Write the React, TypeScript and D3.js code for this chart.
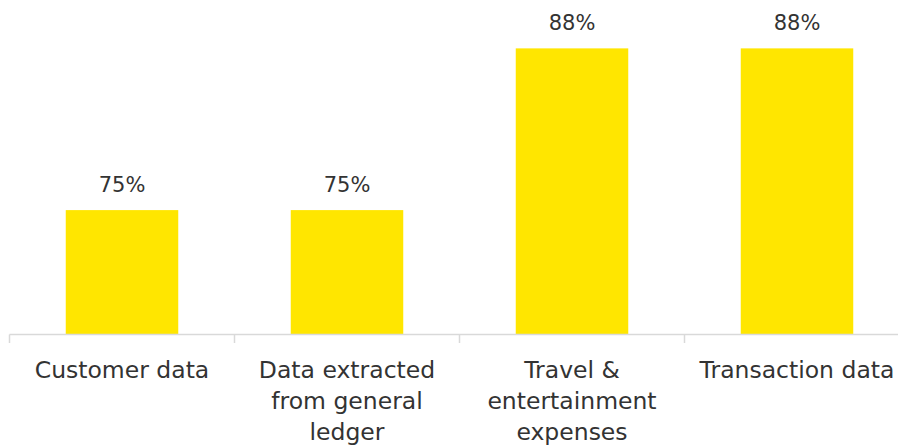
import React from "react";
import * as d3 from "d3";

const categories = [
  "Customer data",
  "Data extracted\nfrom general\nledger",
  "Travel &\nentertainment\nexpenses",
  "Transaction data",
];
const values = [75, 75, 88, 88];
const valueLabels = ["75%", "75%", "88%", "88%"];

const W = 898;
const H = 447;

export default function App() {
  const x = d3
    .scaleBand<string>()
    .domain(categories)
    .range([9.5, 909.5])
    .paddingInner(0.5)
    .paddingOuter(0.25);
  const y = d3.scaleLinear().domain([65, 90]).range([334.5, 23.5]);
  const step = x.step();
  const start = 9.5;
  const font = "'DejaVu Sans', sans-serif";

  return (
    <svg
      width={W}
      height={H}
      style={{ position: "absolute", left: 0, top: 0, display: "block" }}
    >
      {categories.map((c, i) => (
        <rect
          key={c}
          x={x(c)!}
          y={y(values[i])}
          width={x.bandwidth()}
          height={y(65) - y(values[i])}
          fill="#FFE600"
        />
      ))}
      <line x1={start} x2={W} y1={334.5} y2={334.5} stroke="#d9d9d9" strokeWidth={1.5} />
      {d3.range(categories.length + 1).map((i) => (
        <line
          key={i}
          x1={start + i * step}
          x2={start + i * step}
          y1={334.5}
          y2={343}
          stroke="#d9d9d9"
          strokeWidth={1.5}
        />
      ))}
      {categories.map((c, i) => (
        <text
          key={"v" + c}
          x={x(c)! + x.bandwidth() / 2}
          y={y(values[i]) - 18}
          textAnchor="middle"
          fontFamily={font}
          fontSize={21}
          fill="#333333"
        >
          {valueLabels[i]}
        </text>
      ))}
      {categories.map((c) => (
        <text
          key={"c" + c}
          textAnchor="middle"
          fontFamily={font}
          fontSize={23.5}
          fill="#333333"
        >
          {c.split("\n").map((line, j) => (
            <tspan key={j} x={x(c)! + x.bandwidth() / 2} y={378 + j * 31}>
              {line}
            </tspan>
          ))}
        </text>
      ))}
    </svg>
  );
}
